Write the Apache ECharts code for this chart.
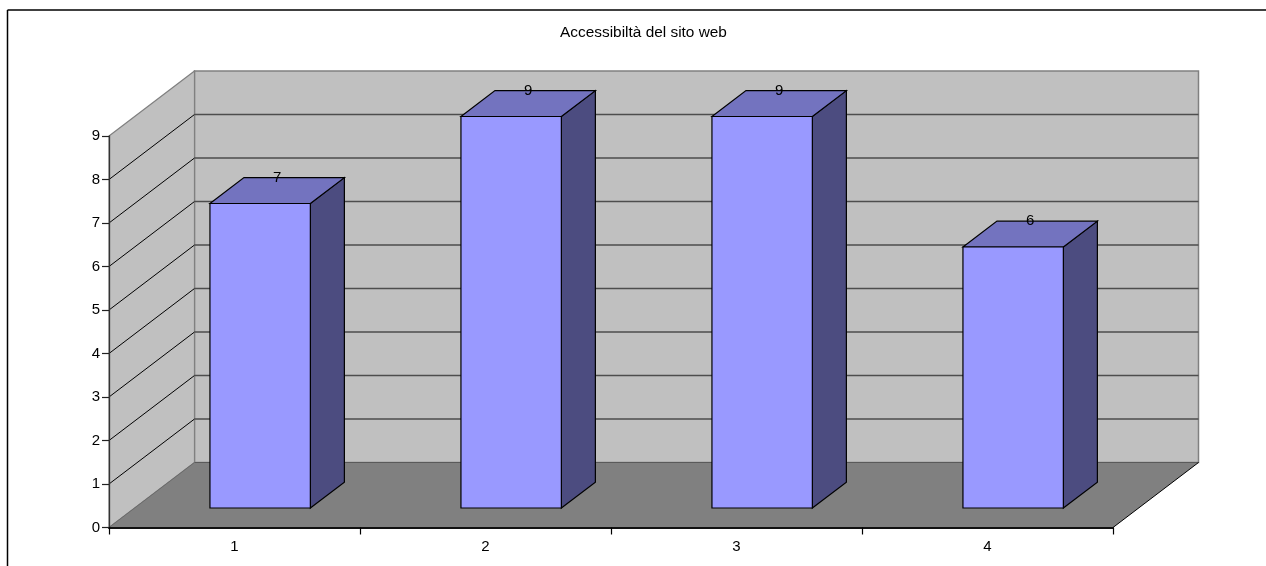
<!DOCTYPE html>
<html>
<head>
<meta charset="utf-8">
<title>Accessibiltà del sito web</title>
<script src="https://cdn.jsdelivr.net/npm/echarts@6/dist/echarts.min.js"></script>
<style>html,body{margin:0;padding:0;background:#fff}#c{width:1266px;height:566px}</style>
</head>
<body>
<div id="c"></div>
<script>
const categories = ['1', '2', '3', '4'];
const values = [7, 9, 9, 6];
const yTicks = [0, 1, 2, 3, 4, 5, 6, 7, 8, 9];
const chartTitle = 'Accessibiltà del sito web';

const FONT = '"Liberation Sans", Arial, sans-serif';
const DX = 85.5, DY = -65;          // chart depth projected on screen
const BAR_FRONT = 0.3, BAR_BACK = 0.698, BAR_WIDTH = 0.4;
const C = {wall:'#C0C0C0', floor:'#808080', edge:'#808080', gridBack:'#4d4d4d', gridSide:'#000000',
           front:'#9999FF', top:'#7373BF', side:'#4C4C80', line:'#000000'};

function poly(pts, fill, stroke, lw){
  return {type:'polygon', shape:{points:pts}, style:{fill:fill, stroke:stroke, lineWidth:lw === undefined ? 1.2 : lw, lineJoin:'miter'}};
}
function seg(a, b, stroke, lw){
  return {type:'line', shape:{x1:a[0], y1:a[1], x2:b[0], y2:b[1]}, style:{stroke:stroke, lineWidth:lw, fill:null}};
}

function renderWalls(params, api){
  const band = api.size([1, 0])[0];
  const last = categories.length - 1;
  const xL = api.coord([0, 0])[0] - band / 2;
  const xR = api.coord([last, 0])[0] + band / 2;
  const y0 = api.coord([0, yTicks[0]])[1];
  const yT = api.coord([0, yTicks[yTicks.length - 1]])[1];
  const ch = [];
  ch.push(poly([[xL + DX, yT + DY], [xR + DX, yT + DY], [xR + DX, y0 + DY], [xL + DX, y0 + DY]], C.wall, C.edge, 1.5));
  ch.push(poly([[xL, yT], [xL + DX, yT + DY], [xL + DX, y0 + DY], [xL, y0]], C.wall, C.edge, 1.2));
  ch.push(poly([[xL, y0], [xL + DX, y0 + DY], [xR + DX, y0 + DY], [xR, y0]], C.floor, null, 0));
  ch.push(seg([xL + DX, y0 + DY], [xR + DX, y0 + DY], '#5a5a5a', 1.2));
  ch.push(seg([xR, y0], [xR + DX, y0 + DY], '#000000', 1));
  ch.push(seg([xL, y0], [xL + DX, y0 + DY], '#6a6a6a', 1));
  yTicks.slice(1, -1).forEach(t => {
    const y = api.coord([0, t])[1];
    ch.push(seg([xL, y], [xL + DX, y + DY], C.gridSide, 1));
    ch.push(seg([xL + DX, y + DY], [xR + DX, y + DY], C.gridBack, 1.4));
  });
  return {type:'group', children:ch};
}

function renderBar(params, api){
  const idx = api.value(0), val = api.value(1);
  const band = api.size([1, 0])[0];
  const w = band * BAR_WIDTH;
  const cx = api.coord([idx, 0])[0];
  const base = api.coord([idx, 0])[1];
  const top = api.coord([idx, val])[1];
  const fx = cx + DX * BAR_FRONT, fy = DY * BAR_FRONT;
  const ddx = DX * (BAR_BACK - BAR_FRONT), ddy = DY * (BAR_BACK - BAR_FRONT);
  const l = fx - w / 2, r = fx + w / 2, b = base + fy, t = top + fy;
  return {type:'group', children:[
    poly([[r, b], [r + ddx, b + ddy], [r + ddx, t + ddy], [r, t]], C.side, C.line),
    poly([[l, t], [l + ddx, t + ddy], [r + ddx, t + ddy], [r, t]], C.top, C.line),
    poly([[l, b], [r, b], [r, t], [l, t]], C.front, C.line),
    {type:'text', z2:10, style:{text:String(val), x:fx + ddx / 2, y:t + ddy, align:'center', verticalAlign:'middle',
      fill:'#000', font:'15px ' + FONT}}
  ]};
}

const chart = echarts.init(document.getElementById('c'), null, {renderer:'canvas'});
chart.setOption({
  animation:false,
  backgroundColor:'#ffffff',
  title:{text:chartTitle, left:638.5, top:20, textAlign:'center',
    textStyle:{fontFamily:FONT, fontSize:15.4, fontWeight:'normal', color:'#000'}},
  grid:{left:109, right:153, top:136, bottom:38.5},
  xAxis:{type:'category', data:categories, z:6,
    axisLine:{lineStyle:{color:'#111', width:2}},
    axisTick:{show:true, length:7, lineStyle:{color:'#000', width:1.2}},
    axisLabel:{fontFamily:FONT, fontSize:15, color:'#000', margin:12},
    splitLine:{show:false}},
  yAxis:{type:'value', min:0, max:9, interval:1, z:6,
    axisLine:{show:true, lineStyle:{color:'#333', width:1.3}},
    axisTick:{show:true, length:7, lineStyle:{color:'#222', width:1.2}},
    axisLabel:{fontFamily:FONT, fontSize:15, color:'#000', margin:9},
    splitLine:{show:false}},
  graphic:[
    {type:'line', shape:{x1:7.5, y1:10, x2:1266, y2:10}, style:{stroke:'#000', lineWidth:1.5}},
    {type:'line', shape:{x1:7.5, y1:10, x2:7.5, y2:566}, style:{stroke:'#000', lineWidth:1.5}}
  ],
  series:[
    {name:'pareti', type:'custom', z:1, silent:true, renderItem:renderWalls, data:[[0, 0]], encode:{x:0, y:1}},
    {name:chartTitle, type:'custom', z:3, renderItem:renderBar,
      data:values.map((v, i) => [i, v]), encode:{x:0, y:1}}
  ]
});
</script>
</body>
</html>
